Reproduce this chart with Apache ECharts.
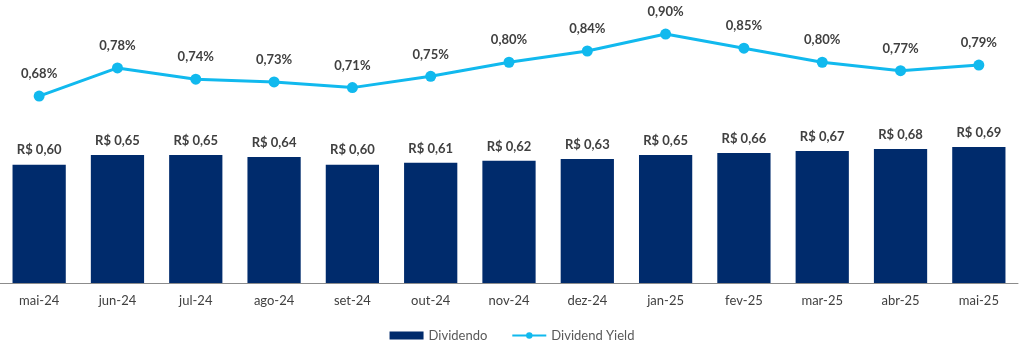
<!DOCTYPE html>
<html>
<head>
<meta charset="utf-8">
<script src="https://cdn.jsdelivr.net/npm/echarts@6/dist/echarts.min.js"></script>
<style>
	html, body { margin: 0; padding: 0; background: #fff; }
	#chart { width: 1024px; height: 350px; }
</style>
</head>
<body>
<div id="chart"></div>
<script>
var meses = ['mai-24', 'jun-24', 'jul-24', 'ago-24', 'set-24', 'out-24', 'nov-24', 'dez-24', 'jan-25', 'fev-25', 'mar-25', 'abr-25', 'mai-25'];
var dividendo = [0.60, 0.65, 0.65, 0.64, 0.60, 0.61, 0.62, 0.63, 0.65, 0.66, 0.67, 0.68, 0.69];
var dividendYield = [0.68, 0.78, 0.74, 0.73, 0.71, 0.75, 0.80, 0.84, 0.90, 0.85, 0.80, 0.77, 0.79];

var fonte = 'Lato, "Open Sans", sans-serif';

var myChart = echarts.init(document.getElementById('chart'), null, { renderer: 'canvas' });

myChart.setOption({
	animation: false,
	textStyle: { fontFamily: fonte },
	grid: { left: 0, right: 6, top: 20, bottom: 67 },
	legend: {
		bottom: 3,
		left: 'center',
		itemGap: 24,
		itemWidth: 34,
		itemHeight: 8,
		textStyle: { color: '#595959', fontSize: 13, fontFamily: fonte },
		data: [
			{ name: 'Dividendo', icon: 'rect' },
			{ name: 'Dividend Yield' }
		]
	},
	xAxis: [{
		type: 'category',
		data: meses,
		axisLine: { lineStyle: { color: '#8c8c8c', width: 1 } },
		axisTick: { show: false },
		axisLabel: { color: '#404040', fontSize: 13, margin: 11 }
	}],
	yAxis: [{
		type: 'value',
		min: 0,
		max: 1.335,
		show: false,
		splitLine: { show: false }
	}, {
		type: 'value',
		min: 0.0165,
		max: 0.95,
		show: false,
		splitLine: { show: false }
	}],
	series: [{
		name: 'Dividendo',
		type: 'bar',
		data: dividendo,
		barWidth: '68%',
		itemStyle: { color: '#002B6C' },
		label: {
			show: true,
			position: 'top',
			distance: 8,
			color: '#404040',
			fontSize: 13,
			fontWeight: 'bold',
			formatter: function (p) {
				return 'R$ ' + p.value.toFixed(2).replace('.', ',');
			}
		}
	}, {
		name: 'Dividend Yield',
		type: 'line',
		yAxisIndex: 1,
		data: dividendYield,
		clip: false,
		symbol: 'circle',
		symbolSize: 11,
		lineStyle: { color: '#11B9EE', width: 3 },
		itemStyle: { color: '#11B9EE' },
		label: {
			show: true,
			position: 'top',
			distance: 10,
			color: '#404040',
			fontSize: 13,
			fontWeight: 'bold',
			formatter: function (p) {
				return p.value.toFixed(2).replace('.', ',') + '%';
			}
		}
	}]
});
</script>
</body>
</html>
